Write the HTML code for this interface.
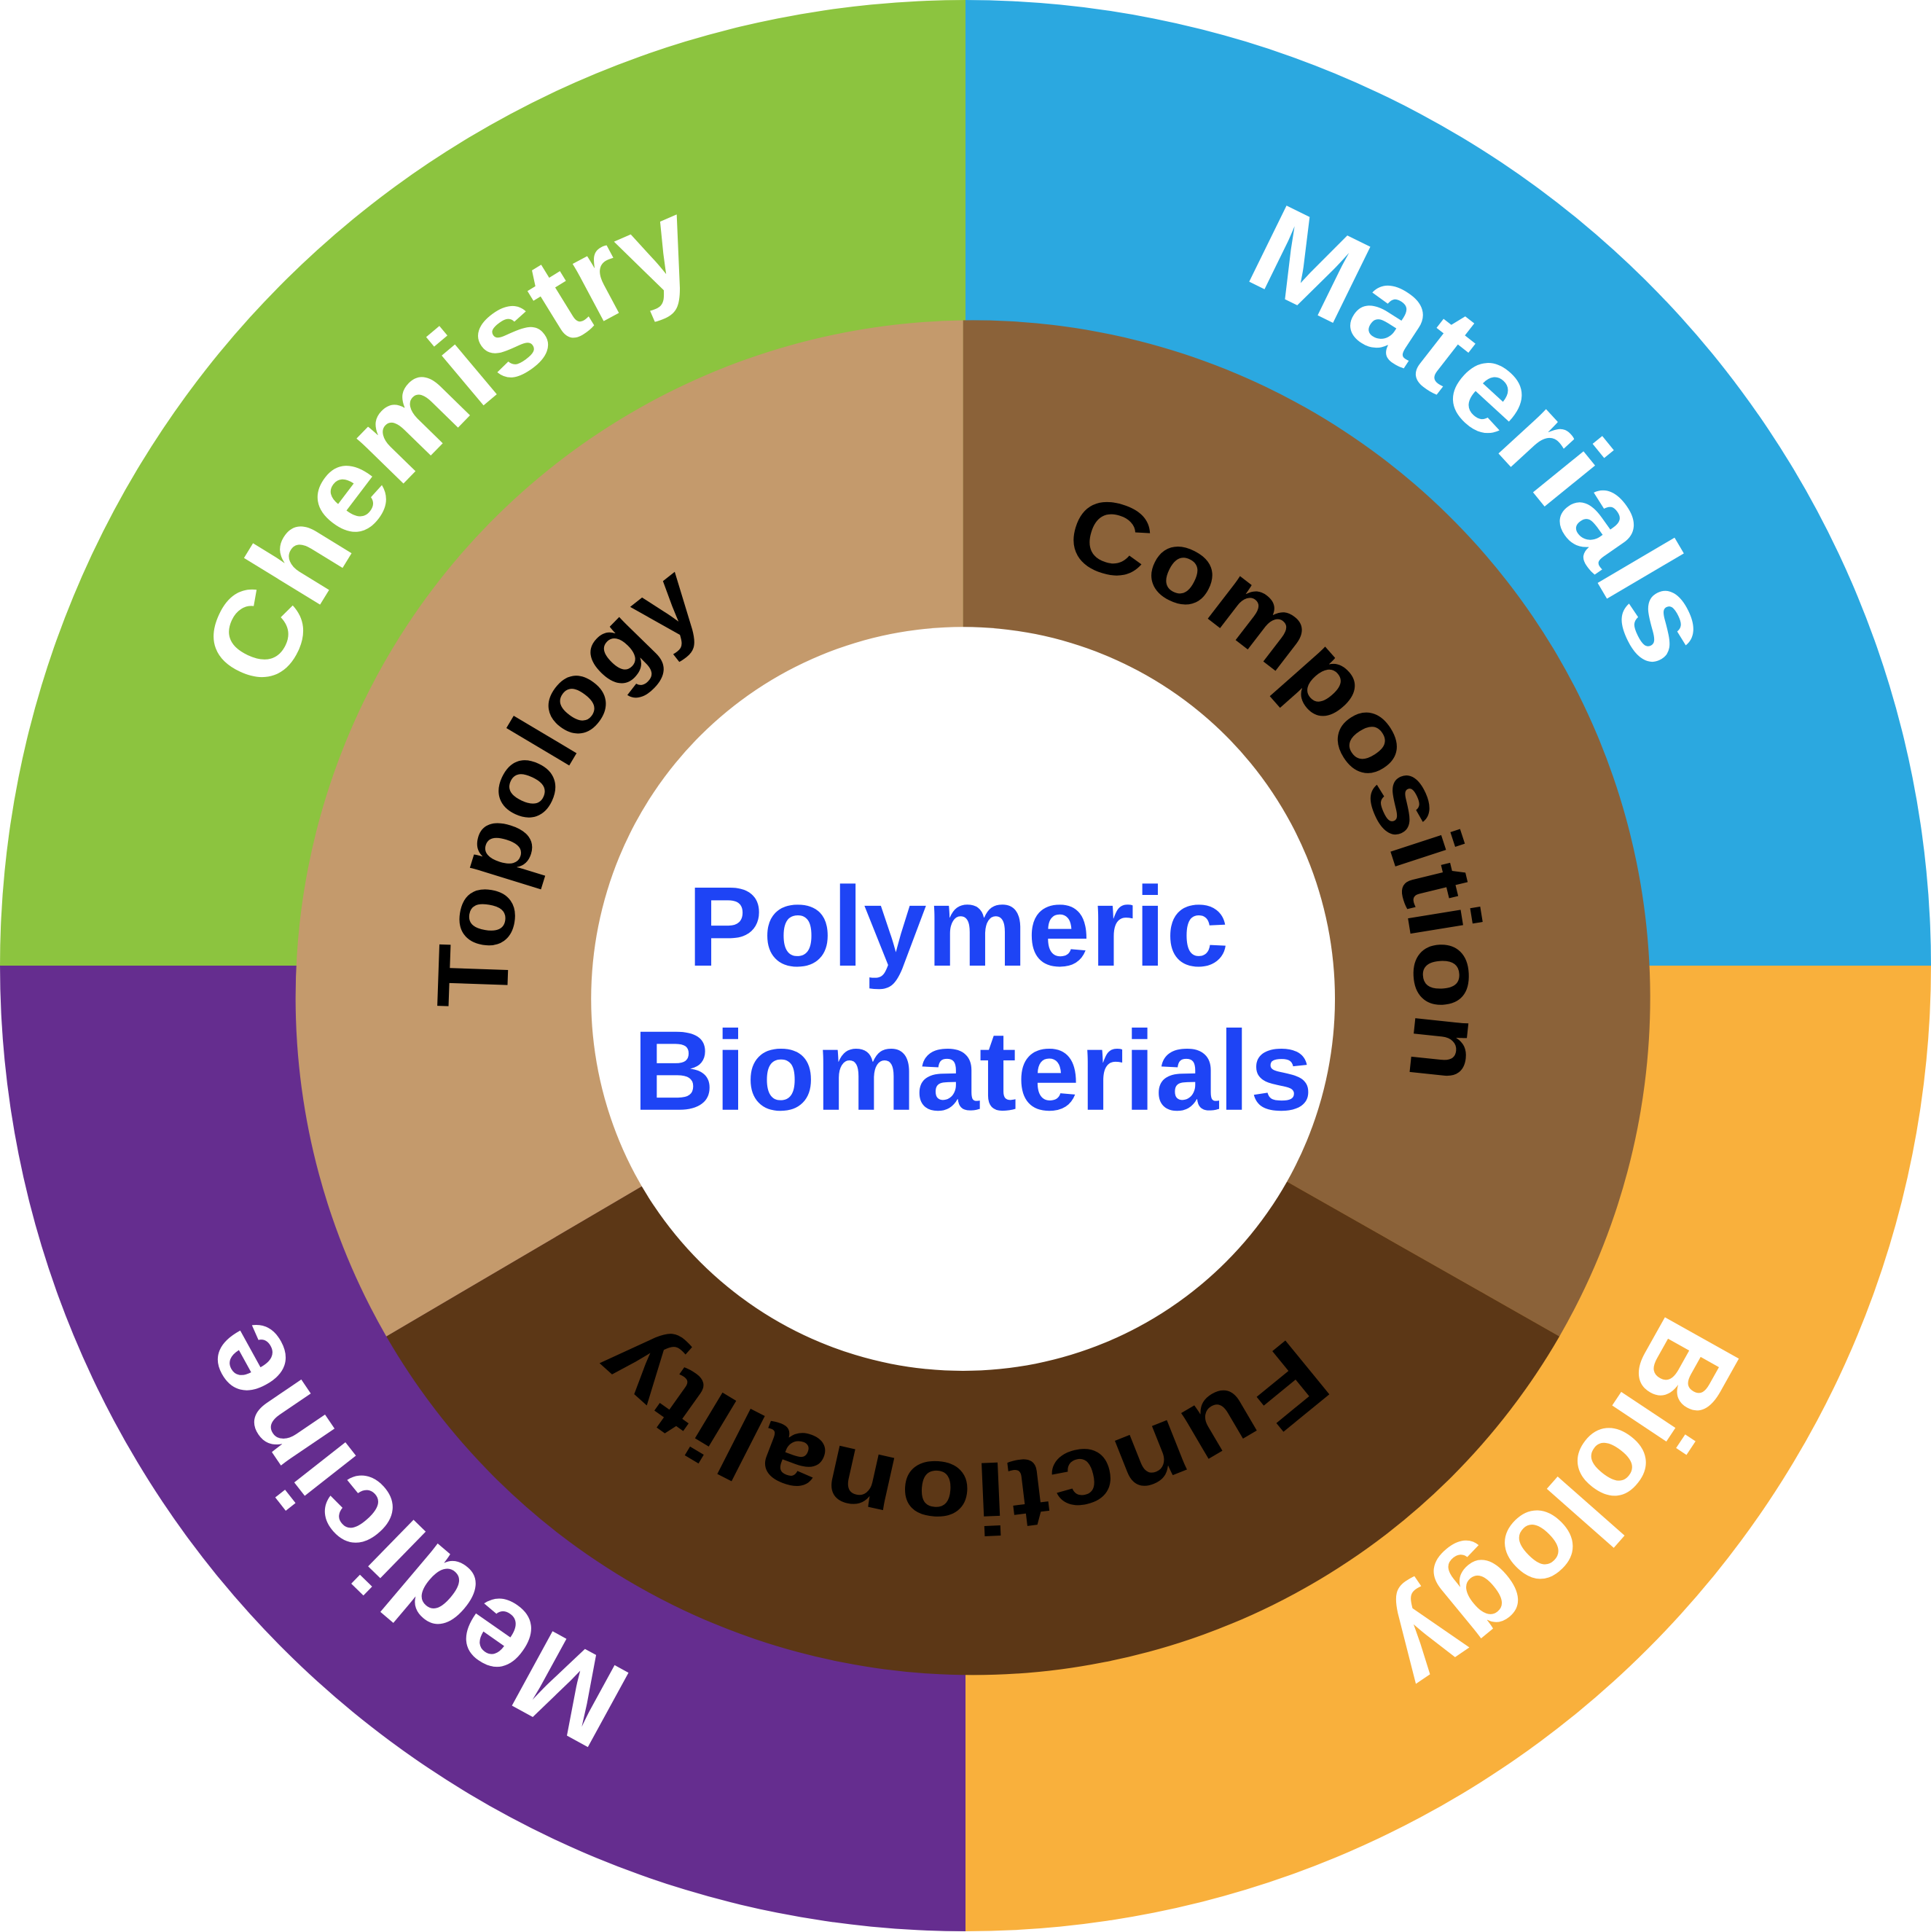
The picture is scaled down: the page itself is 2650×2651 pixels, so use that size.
<!DOCTYPE html>
<html><head><meta charset="utf-8"><style>
html,body{margin:0;padding:0;background:#fff;}
svg{display:block;}
text{font-family:"Liberation Sans",sans-serif;font-weight:bold;}
</style></head><body>
<svg width="2650" height="2651" viewBox="0 0 1568 1568.6" preserveAspectRatio="none" xmlns="http://www.w3.org/2000/svg">
<defs>
<path id="outer" d="M 1384 784 A 600 600 0 1 1 184 784 A 600 600 0 1 1 1384 784"/>
<path id="outer2" d="M 1419 784 A 635 635 0 1 1 149 784 A 635 635 0 1 1 1419 784"/>
<path id="topo" d="M 1168 810 A 378 378 0 1 1 412 810 A 378 378 0 1 1 1168 810"/>
<path id="comp" d="M 425 810 A 362 362 0 1 1 1149 810 A 362 362 0 1 1 425 810"/>
<path id="func" d="M 1165 810 A 378 378 0 1 1 409 810 A 378 378 0 1 1 1165 810"/>
</defs>
<path d="M784 784 L784 0 A784 784 0 0 0 0 784 Z" fill="#8CC43F"/>
<path d="M784 784 L784 0 A784 784 0 0 1 1568 784 Z" fill="#2BA8E0"/>
<path d="M784 784 L1568 784 A784 784 0 0 1 784 1568 Z" fill="#F9B03C"/>
<path d="M784 784 L784 1568 A784 784 0 0 1 0 784 Z" fill="#652D8F"/>
<path d="M782 810 L782 260.06 A550 550 0 0 1 1266.3 1085 Z" fill="#8B6239"/>
<path d="M782 810 L1266.3 1085 A550 550 0 0 1 313.7 1085 Z" fill="#5C3716"/>
<path d="M782 810 L313.7 1085 A550 550 0 0 1 782 260.06 Z" fill="#C49A6C"/>
<circle cx="782" cy="811" r="302" fill="#fff"/>
<g fill="#fff" font-size="100">
<text text-anchor="middle"><textPath href="#outer" startOffset="62.6%" textLength="500" lengthAdjust="spacingAndGlyphs">Chemistry</textPath></text>
<text text-anchor="middle"><textPath href="#outer" startOffset="87.3%" textLength="470" lengthAdjust="spacingAndGlyphs">Materials</textPath></text>
<text text-anchor="middle"><textPath href="#outer2" startOffset="11.7%" textLength="355" lengthAdjust="spacingAndGlyphs">Biology</textPath></text>
<text text-anchor="middle"><textPath href="#outer2" startOffset="37.3%" textLength="430" lengthAdjust="spacingAndGlyphs">Medicine</textPath></text>
</g>
<g fill="#000" font-size="82">
<text text-anchor="middle"><textPath href="#topo" startOffset="57.5%" textLength="375" lengthAdjust="spacingAndGlyphs">Topology</textPath></text>
<text text-anchor="middle"><textPath href="#comp" startOffset="40.6%" textLength="560" lengthAdjust="spacingAndGlyphs">Composition</textPath></text>
<text text-anchor="middle"><textPath href="#func" startOffset="25.3%" textLength="590" lengthAdjust="spacingAndGlyphs">Functionality</textPath></text>
</g>
<g fill="#1E44F5" font-size="92" text-anchor="middle">
<text x="778" y="784">Polymeric</text>
<text x="790" y="901">Biomaterials</text>
</g>
</svg>
</body></html>
